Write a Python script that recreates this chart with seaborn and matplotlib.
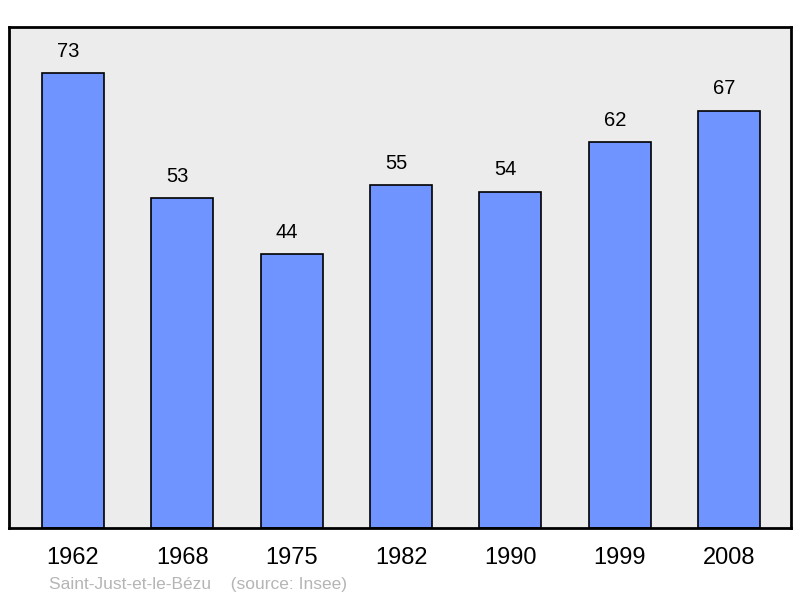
import matplotlib
matplotlib.use("Agg")
import matplotlib.pyplot as plt
import seaborn as sns
import pandas as pd

years = ["1962", "1968", "1975", "1982", "1990", "1999", "2008"]
population = [73, 53, 44, 55, 54, 62, 67]
title_text = "Saint-Just-et-le-Bézu    (source: Insee)"

sns.set_theme(style="white")
plt.rcParams['font.family'] = ['Liberation Sans', 'DejaVu Sans']

df = pd.DataFrame({"year": years, "pop": population})

fig = plt.figure(figsize=(8, 5.98), dpi=100)
ax = fig.add_axes([9/800, 70/598, 782/800, 501/598])
ax.set_facecolor("#ececec")

sns.barplot(data=df, x="year", y="pop", color="#7094ff", saturation=1,
            width=0.567, edgecolor="black", linewidth=1.2, ax=ax)

for p, v in zip(ax.patches, population):
    ax.annotate(str(v), (p.get_x() + p.get_width() / 2, p.get_height()),
                xytext=(-3.5, 15.5), textcoords="offset points",
                ha="center", va="center", fontsize=14.5, color="black")

ax.set_xlim(-0.585, 6.565)
ax.set_ylim(0, 80.4)
ax.set_yticks([])
ax.set_xlabel("")
ax.set_ylabel("")
ax.tick_params(axis="x", length=0, labelsize=17, pad=14, colors="black")
for lbl in ax.get_xticklabels():
    lbl.set_x(lbl.get_position()[0])
for s in ax.spines.values():
    s.set_color("black")
    s.set_linewidth(2)

fig.text(49/800, 1 - 584/598, title_text, fontsize=12.5, color="#b5b5b5",
         ha="left", va="center")

fig.savefig("out.png", dpi=100)
